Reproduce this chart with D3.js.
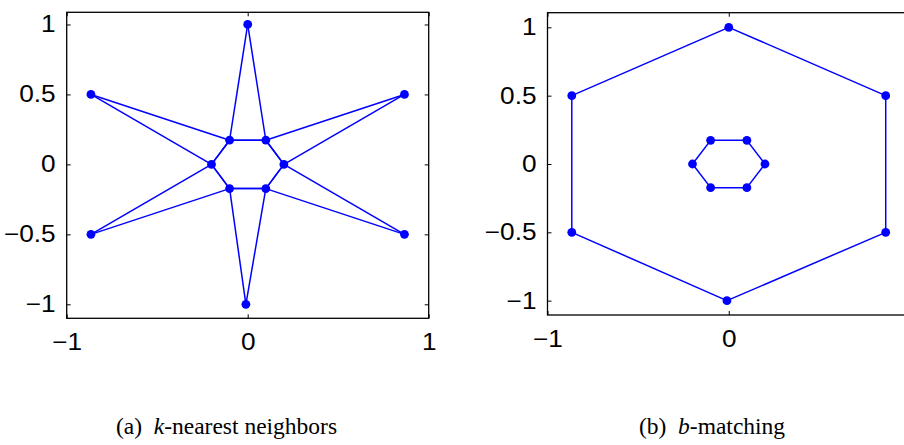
<!DOCTYPE html>
<html>
<head>
<meta charset="utf-8">
<script src="https://cdn.jsdelivr.net/npm/d3@7"></script>
<style>
  html, body { margin: 0; padding: 0; background: #fff; }
  svg { display: block; }
  .tick text { font-family: "Liberation Sans", Arial, sans-serif; font-size: 23px; fill: #000; }
  .caption { font-family: "Liberation Serif", "Times New Roman", serif; font-size: 23.5px; fill: #000; }
</style>
</head>
<body>
<svg id="fig" width="904" height="445"></svg>
<script>
// Node coordinates: six outer points on the unit circle, six inner points on radius 0.2
const nodeX = [0, 0.866, 0.866, -0.01, -0.866, -0.866, 0.2, 0.1, -0.1, -0.2, -0.1, 0.1];
const nodeY = [1, 0.5, -0.5, -1, -0.5, 0.5, 0, 0.173, 0.173, 0, -0.173, -0.173];

// b-matching result: two separate cycles
const matchFrom = [0, 1, 2, 3, 4, 5, 6, 7, 8, 9, 10, 11];
const matchTo   = [1, 2, 3, 4, 5, 0, 7, 8, 9, 10, 11, 6];

// number of neighbours for the k-nearest-neighbour graph
const kNeighbors = 2;

const xTicks = [-1, 0, 1];
const yTicks = [-1, -0.5, 0, 0.5, 1];

const captions = [
  { label: "(a)", italic: "k", rest: "-nearest neighbors" },
  { label: "(b)", italic: "b", rest: "-matching" }
];

const nodes = nodeX.map((x, i) => ({ x, y: nodeY[i] }));

// k-NN edges: each node links to its k closest nodes
function knnEdges(pts, k) {
  const out = [];
  pts.forEach((p, i) => {
    const d = pts.map((q, j) => ({ j, d: (p.x - q.x) ** 2 + (p.y - q.y) ** 2 }))
      .filter(o => o.j !== i)
      .sort((a, b) => a.d - b.d)
      .slice(0, k);
    d.forEach(o => out.push([i, o.j]));
  });
  return out;
}

const panels = [
  {
    xr: [66.7, 428.7], yd: [-1.1, 1.087], yr: [318.3, 12.3],
    edges: knnEdges(nodes, kNeighbors),
    capX: 226.5
  },
  {
    xr: [547.5, 910], yd: [-1.105, 1.107], yr: [315, 12.7],
    edges: matchFrom.map((a, i) => [a, matchTo[i]]),
    capX: 712
  }
];

const svg = d3.select("#fig");
const blue = "#0000ff";
const tickLen = 4;
const labelStretch = 1.14; // tick labels are set a little wide

// widen tick labels horizontally while keeping their anchor point
function stretchLabels(sel) {
  sel.selectAll(".tick text").each(function () {
    const t = d3.select(this);
    const x0 = +t.attr("x") || 0;
    t.attr("x", x0 / labelStretch).attr("transform", `scale(${labelStretch},1)`);
  });
}

panels.forEach((p, pi) => {
  const x = d3.scaleLinear().domain([-1, 1]).range(p.xr);
  const y = d3.scaleLinear().domain(p.yd).range(p.yr);
  const g = svg.append("g");

  // edges
  g.append("g").selectAll("line").data(p.edges).join("line")
    .attr("x1", d => x(nodes[d[0]].x)).attr("y1", d => y(nodes[d[0]].y))
    .attr("x2", d => x(nodes[d[1]].x)).attr("y2", d => y(nodes[d[1]].y))
    .attr("stroke", blue).attr("stroke-width", 1.5);

  // nodes
  g.append("g").selectAll("circle").data(nodes).join("circle")
    .attr("cx", d => x(d.x)).attr("cy", d => y(d.y)).attr("r", 4.4)
    .attr("fill", blue);

  // axes with inward ticks on all four sides
  const left = d3.axisLeft(y).tickValues(yTicks).tickSize(-tickLen).tickPadding(11).tickFormat(d3.format("~g"));
  const right = d3.axisRight(y).tickValues(yTicks).tickSize(-tickLen).tickFormat("");
  const bottom = d3.axisBottom(x).tickValues(xTicks).tickSize(-tickLen).tickPadding(10).tickFormat(d3.format("~g"));
  const top = d3.axisTop(x).tickValues(xTicks).tickSize(-tickLen).tickFormat("");

  const gl = g.append("g").attr("transform", `translate(${p.xr[0]},0)`).call(left);
  const gr = g.append("g").attr("transform", `translate(${p.xr[1]},0)`).call(right);
  const gb = g.append("g").attr("transform", `translate(0,${p.yr[0]})`).call(bottom);
  const gt = g.append("g").attr("transform", `translate(0,${p.yr[1]})`).call(top);
  [gl, gr, gb, gt].forEach(a => {
    a.select(".domain").remove();
    a.selectAll(".tick line").attr("stroke", "#000").attr("stroke-width", 1);
  });
  gb.selectAll(".tick text").attr("dy", "0.95em");
  stretchLabels(gl);
  stretchLabels(gb);

  // axes box
  g.append("rect")
    .attr("x", p.xr[0]).attr("y", p.yr[1])
    .attr("width", p.xr[1] - p.xr[0]).attr("height", p.yr[0] - p.yr[1])
    .attr("fill", "none").attr("stroke", "#000").attr("stroke-width", 1.3);

  // caption
  const c = captions[pi];
  const t = svg.append("text").attr("class", "caption")
    .attr("x", p.capX).attr("y", 434).attr("text-anchor", "middle");
  t.append("tspan").text(c.label + "\u2002");
  t.append("tspan").attr("font-style", "italic").text(c.italic);
  t.append("tspan").text(c.rest);
});
</script>
</body>
</html>
